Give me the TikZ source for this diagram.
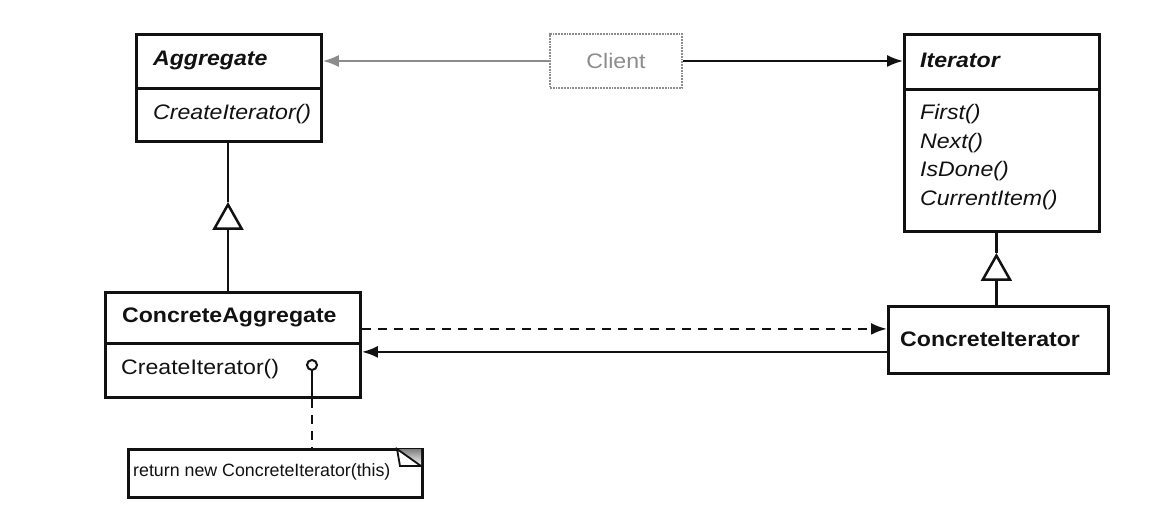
\documentclass[tikz,border=0pt]{standalone}
\usepackage{fontspec}
\setmainfont{Liberation Sans}[FakeStretch=1.1]
\newfontfamily\notefont{Liberation Sans}
\usetikzlibrary{arrows.meta}
\definecolor{ink}{HTML}{111111}
\definecolor{faint}{HTML}{8C8C8C}
\definecolor{shade}{HTML}{9C9C9C}

\begin{document}
\begin{tikzpicture}[x=1pt, y=-1pt,
    cls/.style={draw=ink, line width=2.8pt, inner sep=0pt, anchor=north west},
    txt/.style={anchor=west, inner sep=0pt, text=ink, font=\fontsize{21}{25}\selectfont},
    abs/.style={txt, font=\fontsize{21}{25}\selectfont\bfseries\itshape},
    ops/.style={txt, font=\fontsize{21}{25}\selectfont\itshape},
    con/.style={txt, font=\fontsize{21}{25}\selectfont\bfseries},
    ln/.style={draw=ink, line width=2.5pt},
    inh/.style={ln, -{Triangle[open, length=28pt, width=31pt]}},
    assoc/.style={ln, -{Latex[length=16pt, width=12pt]}}]
  \useasboundingbox (0,0) rectangle (1175,521);

  % ── abstract side: Aggregate, Client, Iterator ──
  \node[cls, minimum width=185pt, minimum height=54pt] (agghead) at (135,33) {};
  \node[cls, minimum width=185pt, minimum height=53pt] (aggops)  at (135,87) {};
  \node[abs] (aggname)   at (153,60)  {Aggregate};
  \node[ops] (aggcreate) at (153,114) {CreateIterator()};

  \node[draw=faint, densely dotted, line width=1.8pt, minimum width=132pt, minimum height=54pt,
        text=faint, font=\fontsize{21}{25}\selectfont] (client) at (616,61) {Client};

  \node[cls, minimum width=195pt, minimum height=55pt]  (ithead) at (903,33) {};
  \node[cls, minimum width=195pt, minimum height=142pt] (itops)  at (903,88) {};
  \node[abs] (itname)  at (920,60)  {Iterator};
  \node[ops] (itfirst) at (920,114) {First()};
  \node[ops] (itnext)  at (920,143) {Next()};
  \node[ops] (itdone)  at (920,171) {IsDone()};
  \node[ops] (itcur)   at (920,200) {CurrentItem()};

  \draw[assoc, draw=faint, line width=1.8pt] (client.west) -- (client.west -| agghead.east);
  \draw[assoc, line width=1.8pt] (client.east) -- (client.east -| ithead.west);

  % ── concrete side ──
  \node[cls, minimum width=255pt, minimum height=51pt] (cahead) at (104,291) {};
  \node[cls, minimum width=255pt, minimum height=54pt] (caops)  at (104,342) {};
  \node[con] (caname)   at (122,317) {ConcreteAggregate};
  \node[txt] (cacreate) at (121,369) {CreateIterator()};

  \node[cls, minimum width=220pt, minimum height=67pt] (cit) at (887,305) {};
  \node[con] (citname) at (900,339) {ConcreteIterator};

  % inheritance
  \coordinate (tipA) at (228,202);
  \draw[inh] (cahead.north -| tipA) -- (tipA);
  \draw[ln] (tipA) -- (aggops.south -| tipA);
  \draw[inh] ([xshift=-2pt]cit.north) -- ++(0,-52) coordinate (tipB);
  \draw[ln] (tipB) -- (itops.south -| tipB);

  % creates / knows
  \draw[assoc, dashed, dash pattern=on 9pt off 7pt] ([yshift=-11pt]cahead.east) -- ([yshift=11pt]cit.west);
  \draw[assoc] ([yshift=-12pt]cit.west) -- ([yshift=-12pt]cit.west -| caops.east);

  % ── note ──
  \node[circle, draw=ink, line width=2pt, minimum size=10pt, inner sep=0pt] (knob) at (312,365) {};
  \draw[ln] (knob.south) -- (knob.south |- caops.south);
  \node[cls, minimum width=294pt, minimum height=48pt] (note) at (127,448) {};
  \draw[ln, dashed, dash pattern=on 9pt off 7pt] (knob.south |- caops.south) -- (note.north -| knob);
  \fill[shade] (397,449) -- (421,449) -- (421,466) -- cycle;
  \draw[ln, line width=1.8pt, fill=white] (397,449) -- (400,466) -- (421,466) -- cycle;
  \node[anchor=west, inner sep=0pt, text=ink, font=\notefont\fontsize{17.8}{22}\selectfont] (notetext) at (133,472)
    {return new ConcreteIterator(this)};
\end{tikzpicture}
\end{document}
